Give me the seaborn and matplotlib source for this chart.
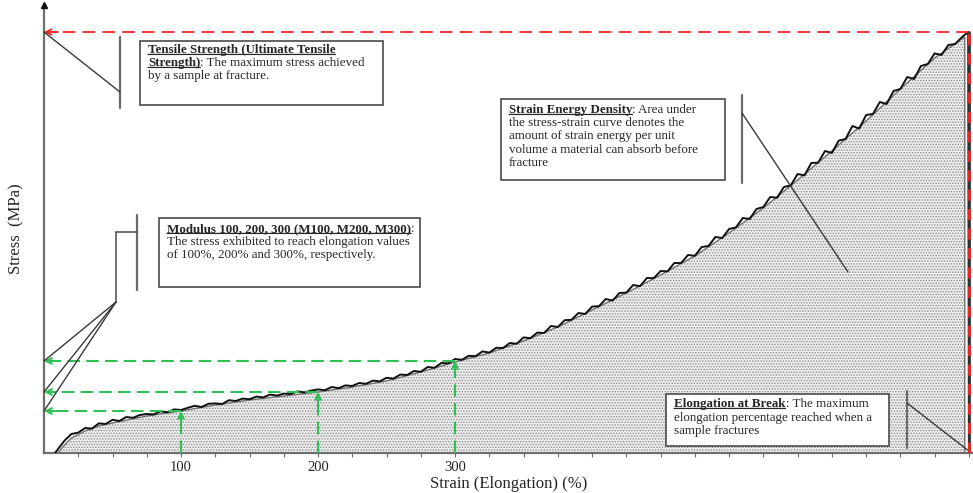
import matplotlib.pyplot as plt
import matplotlib.transforms as mtransforms
import numpy as np
import pandas as pd
import seaborn as sns
from matplotlib.patches import Rectangle

# %%
# fitted (smooth) stress-strain curve, drops to zero at fracture
smooth_strain = [10, 15, 20, 30, 40, 50, 75, 100, 125, 150, 175, 200, 225, 250, 275,
                 300, 325, 350, 375, 400, 425, 450, 475, 500, 525, 550, 575, 600, 625,
                 650, 672, 672]
smooth_stress = [0, 0.4, 0.75, 1.1, 1.35, 1.5, 1.85, 2.1, 2.4, 2.65, 2.85, 3.05, 3.3,
                 3.6, 4.05, 4.55, 5.0, 5.6, 6.3, 7.15, 8.0, 8.9, 9.85, 11.0, 12.25,
                 13.65, 15.1, 16.6, 18.2, 19.75, 20.8, 0]

# raw (noisy) measured curve
raw_strain = [8, 12, 15, 20, 25, 30, 35, 40, 45, 50, 55, 60, 65, 70, 75, 80, 85, 90, 95,
              100, 105, 110, 115, 120, 125, 130, 135, 140, 145, 150, 155, 160, 165, 170,
              175, 180, 185, 190, 195, 200, 205, 210, 215, 220, 225, 230, 235, 240, 245,
              250, 255, 260, 265, 270, 275, 280, 285, 290, 295, 300, 305, 310, 315, 320,
              325, 330, 335, 340, 345, 350, 355, 360, 365, 370, 375, 380, 385, 390, 395,
              400, 405, 410, 415, 420, 425, 430, 435, 440, 445, 450, 455, 460, 465, 470,
              475, 480, 485, 490, 495, 500, 505, 510, 515, 520, 525, 530, 535, 540, 545,
              550, 555, 560, 565, 570, 575, 580, 585, 590, 595, 600, 605, 610, 615, 620,
              625, 630, 635, 640, 645, 650, 655, 660, 665, 670, 674.5, 675]
raw_stress = [0.0, 0.35, 0.62, 0.95, 1.02, 1.25, 1.22, 1.48, 1.45, 1.66, 1.6, 1.8, 1.76,
              1.9, 1.95, 1.93, 2.08, 2.04, 2.18, 2.15, 2.26, 2.36, 2.3, 2.46, 2.48, 2.45,
              2.64, 2.6, 2.72, 2.69, 2.82, 2.78, 2.92, 2.87, 2.97, 2.95, 3.08, 3.03, 3.12,
              3.18, 3.14, 3.3, 3.24, 3.38, 3.35, 3.5, 3.46, 3.62, 3.58, 3.76, 3.72, 3.92,
              3.9, 4.1, 4.06, 4.3, 4.26, 4.5, 4.48, 4.7, 4.66, 4.86, 4.84, 5.08, 5.02, 5.26,
              5.25, 5.5, 5.46, 5.78, 5.74, 6.02, 6.0, 6.35, 6.3, 6.64, 6.66, 7.0, 6.95,
              7.32, 7.34, 7.7, 7.62, 8.0, 8.02, 8.4, 8.34, 8.75, 8.74, 9.1, 9.08, 9.5,
              9.5, 9.9, 9.86, 10.3, 10.35, 10.8, 10.75, 11.2, 11.28, 11.75, 11.7,
              12.2, 12.3, 12.8, 12.76, 13.3, 13.38, 13.95, 13.88, 14.5, 14.52, 15.1,
              15.0, 15.62, 15.7, 16.35, 16.22, 16.9, 16.95, 17.55, 17.45, 18.1, 18.2,
              18.8, 18.7, 19.35, 19.45, 19.98, 19.9, 20.4, 20.45, 20.8, 21.05, 0]

modulus_strain = [100, 200, 300]
modulus_stress = [2.1, 3.05, 4.6]
tensile_strength = 21.05
break_strain = 675
tick_labels = {100: "100", 200: "200", 300: "300"}

df_smooth = pd.DataFrame({"strain": smooth_strain, "stress": smooth_stress})
df_raw = pd.DataFrame({"strain": raw_strain, "stress": raw_stress})

# %%
sns.set_style("white")
plt.rcParams["font.family"] = ["Liberation Serif", "DejaVu Serif"]
plt.rcParams["hatch.color"] = "#8c8c8c"
plt.rcParams["hatch.linewidth"] = 0.7

TEXT = "#262626"
GREEN = "#2fbf55"
RED = "#f02525"

fig, ax = plt.subplots(figsize=(9.73, 4.93), dpi=100)
fig.subplots_adjust(left=44 / 973, right=1.0, bottom=40 / 493, top=488 / 493)
# pixel coords of the 973x493 canvas (origin top-left), used for the note boxes
px = mtransforms.Affine2D().scale(1 / 973, -1 / 493).translate(0, 1) + fig.transFigure

ax.fill_between(df_smooth["strain"], df_smooth["stress"], 0, facecolor="#eeeeee",
                edgecolor="#8c8c8c", hatch="......", linewidth=0, zorder=1)
sns.lineplot(data=df_smooth, x="strain", y="stress", sort=False, estimator=None,
             color="#707070", linewidth=1.0, ax=ax, zorder=2)
sns.lineplot(data=df_raw, x="strain", y="stress", sort=False, estimator=None,
             color="#111111", linewidth=1.4, ax=ax, zorder=3)

ax.set_xlim(0, 678)
ax.set_ylim(0, 22.4)

# tensile strength / elongation at break (red)
ax.plot([break_strain, 6], [tensile_strength, tensile_strength], color=RED, lw=1.3,
        ls=(0, (7, 4)), zorder=4)
ax.plot([break_strain, break_strain], [0, tensile_strength], color="#333333", lw=2.0, zorder=4)
ax.plot([break_strain, break_strain], [0, tensile_strength], color=RED, lw=2.0,
        ls=(0, (4, 3)), zorder=5)
ax.annotate("", xy=(0, tensile_strength), xytext=(10, 0), textcoords="offset points",
            arrowprops=dict(arrowstyle="->", color=RED, lw=1.3, shrinkA=0, shrinkB=0),
            zorder=5)

# modulus values (green)
for s, m in zip(modulus_strain, modulus_stress):
    ax.plot([s, 5], [m, m], color=GREEN, lw=1.5, ls=(0, (6, 3)), zorder=4)
    ax.plot([s, s], [0, m - 0.3], color=GREEN, lw=1.5, ls=(0, (6, 3)), zorder=4)
    ax.annotate("", xy=(0, m), xytext=(8, 0), textcoords="offset points",
                arrowprops=dict(arrowstyle="->", color=GREEN, lw=1.5, shrinkA=0, shrinkB=0),
                zorder=5)
    ax.annotate("", xy=(s, m), xytext=(0, -8), textcoords="offset points",
                arrowprops=dict(arrowstyle="->", color=GREEN, lw=1.5, shrinkA=0, shrinkB=0),
                zorder=5)

# axes styling
sns.despine(ax=ax)
for side in ["left", "bottom"]:
    ax.spines[side].set_color("#6e6e6e")
    ax.spines[side].set_linewidth(1.6)
ax.plot([0], [22.4], marker="^", color="#111111", markersize=5, clip_on=False, zorder=6)

ticks = np.arange(25, 676, 25)
ax.set_xticks(ticks)
ax.set_xticklabels([tick_labels.get(int(t), "") for t in ticks], fontsize=10.5, color=TEXT)
ax.set_yticks([])
ax.tick_params(axis="x", bottom=True, direction="out", length=3, width=0.8,
               color="#6e6e6e", pad=3)
ax.set_xlabel("Strain (Elongation) (%)", fontsize=12, color=TEXT, labelpad=1)
ax.set_ylabel("Stress  (MPa)", fontsize=12, color=TEXT, labelpad=14)


# %%
def line(x, y, parts, size=9.4):
    prev = None
    for txt, bold in parts:
        kw = dict(fontsize=size, color=TEXT, fontweight="bold" if bold else "normal",
                  ha="left", zorder=8, annotation_clip=False)
        if prev is None:
            prev = ax.annotate(txt, xy=(x, y), xycoords=px, va="baseline", **kw)
        else:
            prev = ax.annotate(txt, xy=(1, 0), xycoords=prev, va="bottom", **kw)
        if bold:
            ax.annotate("", xy=(0, 0.13), xycoords=prev, xytext=(1, 0.13), textcoords=prev,
                        arrowprops=dict(arrowstyle="-", lw=0.9, color=TEXT,
                                        shrinkA=0, shrinkB=0),
                        zorder=8, annotation_clip=False)


def box(x0, y0, x1, y1):
    ax.add_patch(Rectangle((x0, y0), x1 - x0, y1 - y0, transform=px, facecolor="white",
                           edgecolor="#4a4a4a", lw=1.2, clip_on=False, zorder=7))


def seg(points, lw=1.0, color="#3a3a3a"):
    for (xa, ya), (xb, yb) in zip(points[:-1], points[1:]):
        ax.annotate("", xy=(xb, yb), xycoords=px, xytext=(xa, ya), textcoords=px,
                    arrowprops=dict(arrowstyle="-", lw=lw, color=color,
                                    shrinkA=0, shrinkB=0),
                    zorder=6, annotation_clip=False)


# Tensile strength note
box(140, 41, 383, 105)
line(148, 53, [("Tensile Strength (Ultimate Tensile", True)])
line(148, 66, [("Strength)", True), (": The maximum stress achieved", False)])
line(148, 79, [("by a sample at fracture.", False)])
seg([(120, 37), (120, 108)], lw=1.6, color="#6a6a6a")
ax.annotate("", xy=(0, tensile_strength), xytext=(120, 92), textcoords=px,
            arrowprops=dict(arrowstyle="-", lw=1.0, color="#3a3a3a", shrinkA=0, shrinkB=0),
            zorder=6)

# Modulus note
box(159, 218, 420, 287)
line(167, 232, [("Modulus 100, 200, 300 (M100, M200, M300)", True), (":", False)])
line(167, 245, [("The stress exhibited to reach elongation values", False)])
line(167, 258, [("of 100%, 200% and 300%, respectively.", False)])
seg([(137, 215), (137, 290)], lw=1.6, color="#6a6a6a")
seg([(137, 232), (116, 232), (116, 302)], lw=1.0)
for m in modulus_stress:
    ax.annotate("", xy=(0, m), xytext=(116, 302), textcoords=px,
                arrowprops=dict(arrowstyle="-", lw=1.0, color="#3a3a3a",
                                shrinkA=0, shrinkB=0),
                zorder=6)

# Strain energy density note
box(501, 99, 725, 180)
line(509, 113, [("Strain Energy Density", True), (": Area under", False)])
line(509, 126, [("the stress-strain curve denotes the", False)])
line(509, 139.5, [("amount of strain energy per unit", False)])
line(509, 153, [("volume a material can absorb before", False)])
line(509, 166, [("fracture", False)])
seg([(742, 95), (742, 183)], lw=1.6, color="#6a6a6a")
seg([(742, 113), (848, 272)], lw=1.0)

# Elongation at break note
box(666, 394, 889, 446)
line(674, 407, [("Elongation at Break", True), (": The maximum", False)])
line(674, 421, [("elongation percentage reached when a", False)])
line(674, 434, [("sample fractures", False)])
seg([(907, 391), (907, 448)], lw=1.6, color="#6a6a6a")
ax.annotate("", xy=(break_strain - 1, 0.15), xytext=(907, 403), textcoords=px,
            arrowprops=dict(arrowstyle="-", lw=1.0, color="#3a3a3a", shrinkA=0, shrinkB=0),
            zorder=6, annotation_clip=False)

plt.savefig("out.png", dpi=100)
